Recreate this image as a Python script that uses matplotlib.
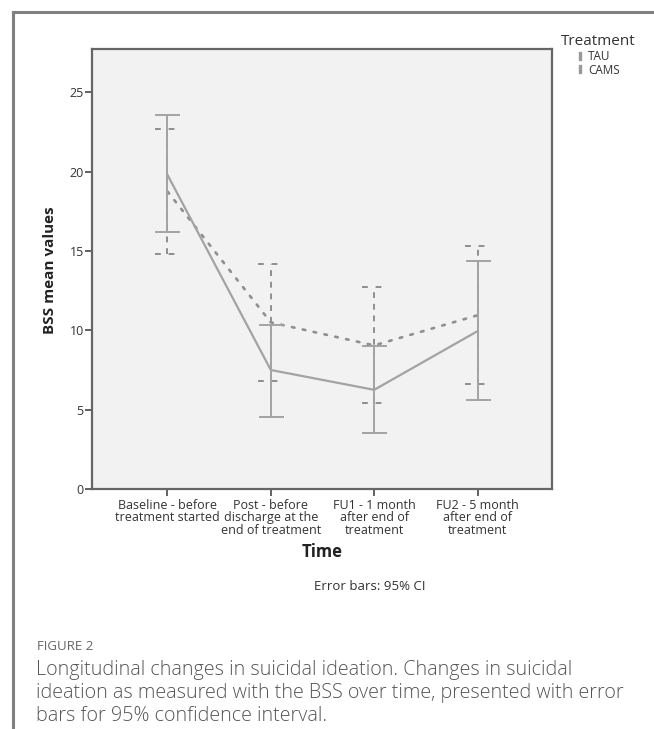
import numpy as np
import matplotlib
matplotlib.use('Agg')
import matplotlib.pyplot as plt
from matplotlib.lines import Line2D

plt.rcParams['font.family'] = ['Open Sans', 'DejaVu Sans']

# data
times = ['Baseline - before\ntreatment started',
         'Post - before\ndischarge at the\nend of treatment',
         'FU1 - 1 month\nafter end of\ntreatment',
         'FU2 - 5 month\nafter end of\ntreatment']
cams_mean = [19.8, 7.5, 6.25, 9.95]
cams_low = [16.2, 4.55, 3.5, 5.6]
cams_high = [23.6, 10.35, 9.0, 14.4]
tau_mean = [18.75, 10.5, 9.05, 10.95]
tau_low = [14.8, 6.8, 5.4, 6.6]
tau_high = [22.7, 14.15, 12.7, 15.3]

W, H = 654, 729
fig = plt.figure(figsize=(W / 100, H / 100), dpi=100)
fig.patch.set_facecolor('white')

def fx(px):
    return px / W

def fy(py):
    return 1 - py / H

ax = fig.add_axes([fx(92), fy(489), fx(552) - fx(92), fy(49) - fy(489)])
ax.set_facecolor('#f2f2f2')
x = np.arange(len(times))
col = '#a3a3a3'

# CAMS: solid line, solid error bars
ax.plot(x, cams_mean, color=col, lw=1.6, zorder=3)
ax.errorbar(x, cams_mean,
            yerr=[np.array(cams_mean) - np.array(cams_low),
                  np.array(cams_high) - np.array(cams_mean)],
            fmt='none', ecolor=col, elinewidth=1.4, capsize=9, capthick=1.4, zorder=3)

# TAU: dotted line, dashed error bars and caps
ax.plot(x, tau_mean, color='#8f8f8f', lw=1.9, ls=(0, (1, 3.2)), dash_capstyle='round', zorder=2)
ax.vlines(x, tau_low, tau_high, colors='#8f8f8f', lw=1.4, linestyles=(0, (3, 3)), zorder=2)
ax.hlines(tau_low, x - 0.12, x + 0.12, colors='#8f8f8f', lw=1.4, linestyles=(0, (3, 4)), zorder=2)
ax.hlines(tau_high, x - 0.12, x + 0.12, colors='#8f8f8f', lw=1.4, linestyles=(0, (3, 4)), zorder=2)

ax.set_xlim(-0.73, 3.72)
ax.set_ylim(0, 27.73)
ax.set_yticks([0, 5, 10, 15, 20, 25])
ax.set_xticks(x)
ax.set_xticklabels(times, fontsize=9, color='#333333', linespacing=0.95)
ax.tick_params(axis='y', labelsize=9, labelcolor='#333333', length=5, width=1.3, color='#555555', pad=1)
ax.tick_params(axis='x', length=5, width=1.3, color='#555555', pad=2)
for s in ax.spines.values():
    s.set_color('#666666')
    s.set_linewidth(1.6)

fig.text(fx(50), fy(270), 'BSS mean values', rotation=90, ha='center', va='center',
         fontsize=11, fontweight='bold', color='#222222')
fig.text(fx(322), fy(552), 'Time', ha='center', va='center', fontsize=12,
         fontweight='bold', color='#222222')
fig.text(fx(370), fy(586), 'Error bars: 95% CI', ha='center', va='center',
         fontsize=9.5, color='#333333')

# legend
handles = [Line2D([], [], ls='none', marker=r'$\mathrm{I}$', ms=6, color='#999999'),
           Line2D([], [], ls='none', marker=r'$\mathrm{I}$', ms=6, color='#999999')]
leg = fig.legend(handles, ['TAU', 'CAMS'], title='Treatment', loc='upper left',
                 bbox_to_anchor=(fx(551), fy(25)), frameon=False, fontsize=8.5,
                 title_fontsize=11, handlelength=0.6, handletextpad=0.4,
                 labelspacing=0.05, borderpad=0.3)
leg.get_title().set_color('#333333')
for t in leg.get_texts():
    t.set_color('#333333')

# outer frame of the figure panel
fig.add_artist(Line2D([fx(13), fx(13)], [fy(12), 0], color='#808080', lw=2.2))
fig.add_artist(Line2D([fx(13), 1], [fy(12), fy(12)], color='#808080', lw=2.2))

fig.text(fx(37), fy(646), 'FIGURE 2', ha='left', va='center', fontsize=9.5, color='#666666')
caption_lines = ['Longitudinal changes in suicidal ideation. Changes in suicidal',
                 'ideation as measured with the BSS over time, presented with error',
                 'bars for 95% confidence interval.']
for i, line in enumerate(caption_lines):
    fig.text(fx(36), fy(670 + 23 * i), line, ha='left', va='center', fontsize=14.2,
             color='#555555', fontweight='light')

fig.savefig('out.png', dpi=100)
